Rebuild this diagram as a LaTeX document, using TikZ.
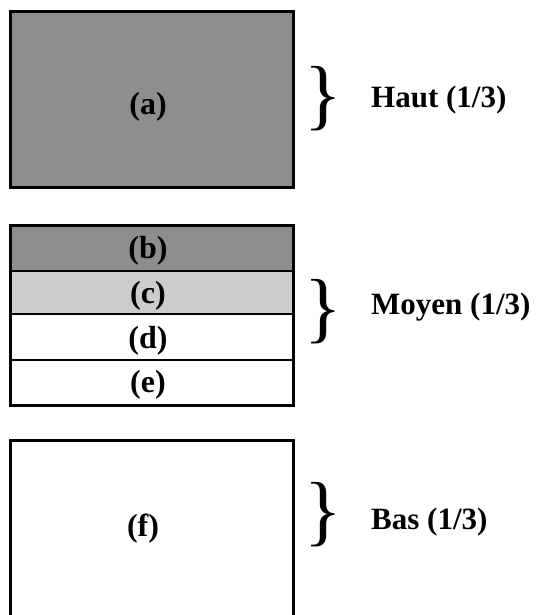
\documentclass[tikz,border=0pt]{standalone}
\usepackage{fontspec}
\setmainfont{Liberation Serif}
\definecolor{darkg}{RGB}{142,142,142}
\definecolor{lightg}{RGB}{204,204,204}
\begin{document}
\begin{tikzpicture}[x=1pt,y=-1pt,
  boxline/.style={draw=black,line width=3pt},
  lab/.style={font=\fontsize{32}{32}\selectfont\bfseries,inner sep=0pt},
  side/.style={font=\fontsize{31}{31}\selectfont\bfseries,anchor=west,inner sep=0pt},
  brace/.style={font=\fontsize{78}{78}\selectfont,inner sep=0pt}]
\useasboundingbox (0,0) rectangle (539,615);
\clip (0,0) rectangle (539,615);
% box a
\fill[darkg] (10.5,11.5) rectangle (293.5,187);
\draw[boxline] (10.5,11.5) rectangle (293.5,187);
\node[lab] (a) at (148,107) {(a)};
% box b-e
\fill[darkg] (10.5,225) rectangle (293.5,271);
\fill[lightg] (10.5,271) rectangle (293.5,314);
\draw[line width=1.5pt] (10.5,271) -- (293.5,271);
\draw[line width=1.5pt] (10.5,314) -- (293.5,314);
\draw[line width=1.5pt] (10.5,360) -- (293.5,360);
\draw[boxline] (10.5,225) rectangle (293.5,405);
\node[lab] (b) at (148,251) {(b)};
\node[lab] (c) at (148,296) {(c)};
\node[lab] (d) at (148,341) {(d)};
\node[lab] (e) at (148,385) {(e)};
% box f
\draw[boxline] (10.5,440) rectangle (293.5,640);
\node[lab] (f) at (143,529) {(f)};
% braces and labels
\node[brace] (br1) at (323,99) {\}};
\node[brace] (br2) at (323,312) {\}};
\node[brace] (br3) at (323,515) {\}};
\node[side] (h) at (371,100) {Haut (1/3)};
\node[side] (m) at (371,307) {Moyen (1/3)};
\node[side] (bs) at (371,522) {Bas (1/3)};
\end{tikzpicture}
\end{document}
